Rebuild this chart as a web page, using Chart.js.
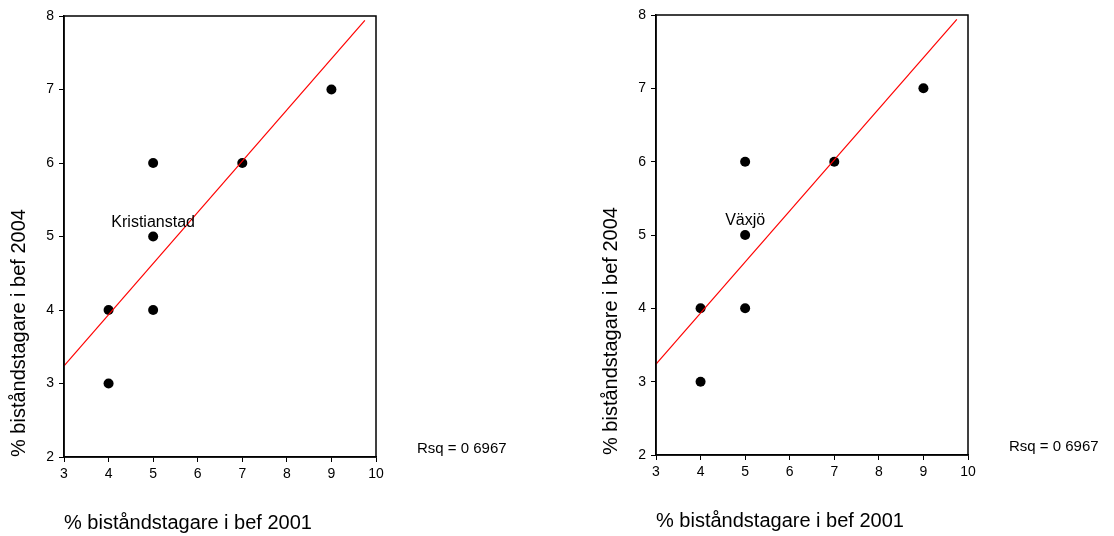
<!DOCTYPE html>
<html>
<head>
<meta charset="utf-8">
<script src="https://cdn.jsdelivr.net/npm/chart.js@4"></script>
<style>
  html, body { margin:0; padding:0; background:#fff; }
  body { width:1114px; height:536px; position:relative; overflow:hidden; }
  canvas { position:absolute; display:block; }
</style>
</head>
<body>
<canvas id="c1" width="560" height="536" style="left:0px;top:0px;width:560px;height:536px"></canvas>
<canvas id="c2" width="522" height="536" style="left:592px;top:-2px;width:522px;height:536px"></canvas>
<script>
// ---- data ----
const xBef2001 = [4, 4, 5, 5, 5, 7, 9];
const yBef2004 = [3, 4, 4, 5, 6, 6, 7];
const fitLineX = [3, 9.75];
const fitLineY = [3.24, 7.94];
const xTicks = [3, 4, 5, 6, 7, 8, 9, 10];
const yTicks = [2, 3, 4, 5, 6, 7, 8];
const cityLeft = "Kristianstad";
const cityRight = "Växjö";
const cityPointX = 5;
const cityPointY = 5;
const rsqText = "Rsq = 0 6967";
const xTitle = "% biståndstagare i bef 2001";
const yTitle = "% biståndstagare i bef 2004";

const FONT = "'Liberation Sans', Arial, Helvetica, sans-serif";

function pts(xs, ys) { return xs.map((x, i) => ({ x: x, y: ys[i] })); }

const annotPlugin = {
  id: 'annot',
  afterDatasetsDraw(chart, args, opts) {
    const ctx = chart.ctx;
    const a = chart.chartArea;
    ctx.save();
    ctx.strokeStyle = '#000';
    ctx.lineWidth = 1.5;
    ctx.strokeRect(a.left, a.top, a.right - a.left, a.bottom - a.top);
    const xs = chart.scales.x, ys = chart.scales.y;
    ctx.fillStyle = '#000';
    ctx.font = '16px ' + FONT;
    ctx.textAlign = 'center';
    ctx.textBaseline = 'alphabetic';
    ctx.fillText(opts.city, xs.getPixelForValue(cityPointX), ys.getPixelForValue(cityPointY) - 10);
    ctx.font = '15px ' + FONT;
    ctx.textAlign = 'left';
    ctx.textBaseline = 'middle';
    ctx.fillText(rsqText, a.right + 41, a.bottom - 8);
    ctx.restore();
  }
};

function makeChart(id, city, rightPad, topPad) {
  return new Chart(document.getElementById(id), {
    type: 'scatter',
    data: {
      datasets: [
        {
          data: pts(xBef2001, yBef2004),
          pointRadius: 5,
          pointBackgroundColor: '#000',
          pointBorderColor: '#000',
          pointBorderWidth: 0,
          showLine: false,
          order: 2
        },
        {
          data: pts(fitLineX, fitLineY),
          showLine: true,
          pointRadius: 0,
          borderColor: '#ff0000',
          borderWidth: 1.2,
          fill: false,
          order: 1
        }
      ]
    },
    options: {
      responsive: false,
      animation: false,
      devicePixelRatio: 1,
      layout: { padding: { top: topPad, right: rightPad, left: 0, bottom: 0 } },
      plugins: { legend: { display: false }, tooltip: { enabled: false }, annot: { city: city } },
      scales: {
        x: {
          type: 'linear',
          min: xTicks[0],
          max: xTicks[xTicks.length - 1],
          afterFit(s) { s.height = 79; },
          afterBuildTicks(s) { s.ticks = xTicks.map(v => ({ value: v })); },
          ticks: { stepSize: 1, color: '#000', font: { family: FONT, size: 14 }, padding: 4, maxRotation: 0 },
          grid: { display: true, drawOnChartArea: false, drawTicks: true, tickLength: 5, color: '#000', lineWidth: 1 },
          border: { display: true, color: '#000', width: 1.5 },
          title: { display: true, text: xTitle, align: 'start', color: '#000', font: { family: FONT, size: 20 }, padding: { top: 0, bottom: 1 } }
        },
        y: {
          type: 'linear',
          min: yTicks[0],
          max: yTicks[yTicks.length - 1],
          afterFit(s) { s.width = 64; },
          afterBuildTicks(s) { s.ticks = yTicks.map(v => ({ value: v })); },
          ticks: { stepSize: 1, color: '#000', font: { family: FONT, size: 14 }, padding: 5 },
          grid: { display: true, drawOnChartArea: false, drawTicks: true, tickLength: 5, color: '#000', lineWidth: 1 },
          border: { display: true, color: '#000', width: 1.5 },
          title: { display: true, text: yTitle, align: 'start', color: '#000', font: { family: FONT, size: 20 }, padding: { top: 7, bottom: 0 } }
        }
      }
    },
    plugins: [annotPlugin]
  });
}

makeChart('c1', cityLeft, 560 - 376, 16);
makeChart('c2', cityRight, 522 - 376, 17);
</script>
</body>
</html>
